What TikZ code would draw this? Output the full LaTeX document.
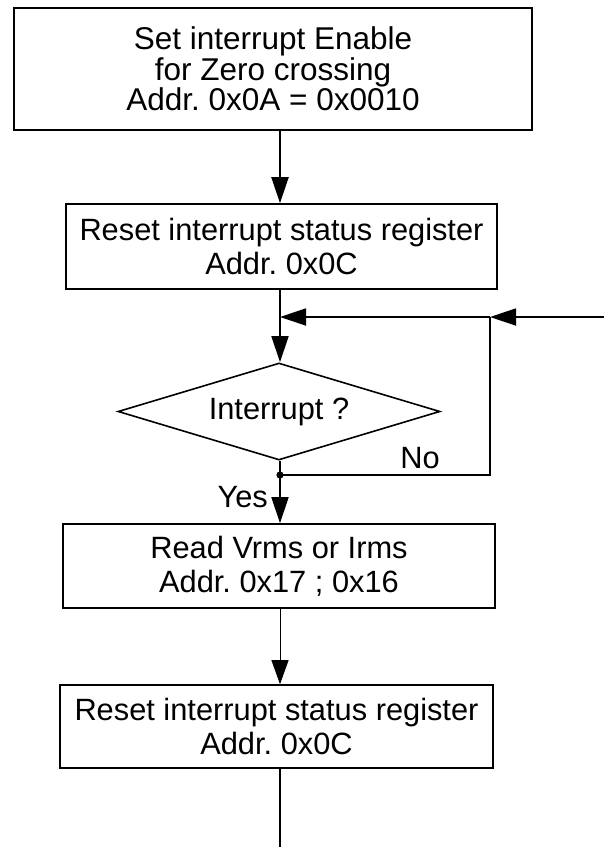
\documentclass[tikz,border=0pt]{standalone}
\usepackage{fontspec}
\setmainfont{Liberation Sans}
\usetikzlibrary{arrows.meta,shapes.geometric}
\frenchspacing
\begin{document}
\begin{tikzpicture}[x=1pt,y=-1pt,
  labelfont/.style={font=\fontsize{30.8}{34}\selectfont},
  procbox/.style={draw, rectangle, line width=1.6pt, inner sep=0pt, align=center, labelfont},
  decision/.style={draw, diamond, aspect=3.3, line width=1.6pt, inner sep=0pt, labelfont},
  flow/.style={line width=1.6pt, -{Triangle[length=26pt,width=17pt]}},
  thinflow/.style={line width=1pt, -{Triangle[length=24pt,width=17pt]}},
  plain/.style={line width=1.8pt},
  tag/.style={labelfont, inner sep=0pt}]
  \useasboundingbox (0,0) rectangle (604,847);

  % process steps and the decision
  \node[procbox, line width=2pt, minimum width=518pt, minimum height=122pt,
        font=\fontsize{31.5}{28}\selectfont] (enable) at (273,69)
    {Set interrupt Enable\\for Zero crossing\\Addr. 0x0A = 0x0010};
  \node[procbox, minimum width=431pt, minimum height=85pt] (reset1) at (281.5,246.5)
    {Reset interrupt status register\\Addr. 0x0C};
  \node[decision, minimum width=322pt, minimum height=97pt] (irq) at (279,411.5) {Interrupt ?};
  \node[procbox, minimum width=432pt, minimum height=84pt] (read) at (279,566)
    {Read Vrms or Irms\\Addr. 0x17 ; 0x16};
  \node[procbox, minimum width=433pt, minimum height=83pt] (reset2) at (276.5,726.5)
    {Reset interrupt status register\\Addr. 0x0C};

  % routing points
  \coordinate (split) at (280,475);
  \coordinate (merge) at (280,317);
  \coordinate (loopbot) at (490,475);
  \coordinate (looptop) at (490,317);
  \coordinate (feed) at (604,317);
  \coordinate (out) at (280,847);

  % main flow
  \draw[flow, line width=2pt] (enable.south -| split) -- (reset1.north -| split);
  \draw[flow] (reset1.south -| split) -- (irq.north -| split);
  \draw[plain, line width=1.6pt] (irq.south -| split) -- (split);
  \draw[flow] (split) -- (read.north -| split);
  \draw[thinflow] (read.south -| split) -- (reset2.north -| split);
  \draw[plain] (reset2.south -| out) -- (out);

  % "No" branch loops back above the decision
  \draw[plain] (split) -- (loopbot) -- (looptop);
  \draw[flow, line width=1.8pt] (looptop) -- (merge);
  \draw[flow, line width=1.8pt] (feed) -- (looptop);
  \fill (split) circle (3.6pt);

  % branch labels
  \node[tag, anchor=base] (nolbl) at (420,468) {No};
  \node[tag, anchor=base east] (yeslbl) at (268,507) {Yes};
\end{tikzpicture}
\end{document}
